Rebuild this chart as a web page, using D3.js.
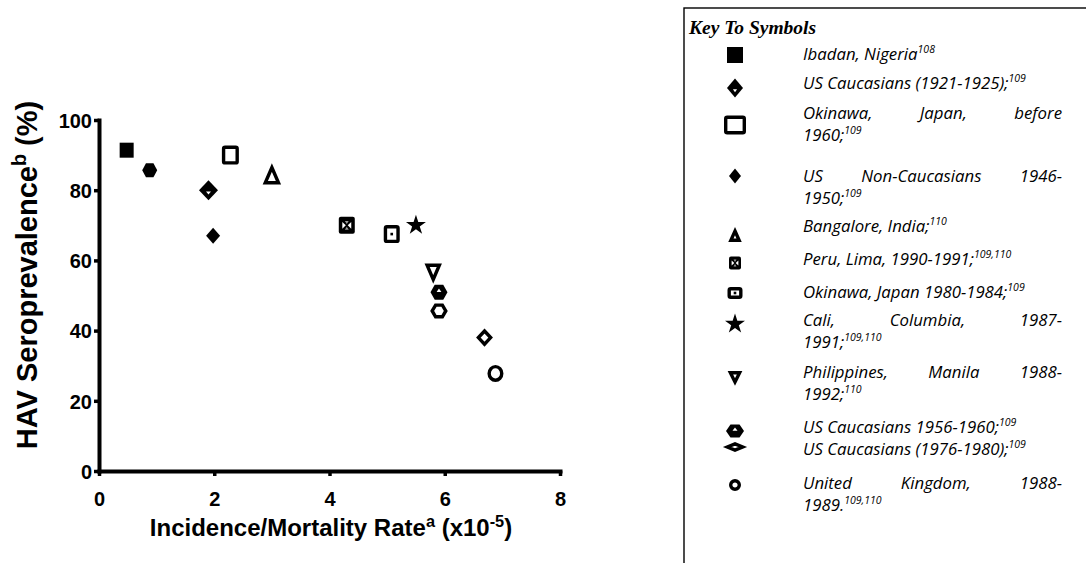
<!DOCTYPE html>
<html><head><meta charset="utf-8">
<script src="https://cdn.jsdelivr.net/npm/d3@7"></script>
<style>body{margin:0;background:#fff;} svg{display:block}</style>
</head><body><svg id="c" width="1086" height="563"></svg>
<script>
// ---------- DATA ----------
const pointX = [0.48, 0.88, 1.9, 1.98, 2.28, 3.0, 4.3, 5.08, 5.5, 5.8, 5.9, 5.9, 6.69, 6.88];
const pointY = [91.4, 85.7, 80, 67, 90, 84.5, 70, 67.5, 70, 56.4, 50.9, 45.6, 38, 27.8];
const pointShape = ["squareFill","hexFill","diamondNotch","diamondFill","squareOpen","triUp",
  "squareX","squareDot","star","triDown","hexNotch","hexOpen","diamondOpen","circleOpen"];
const xTicks = [0, 2, 4, 6, 8];
const yTicks = [0, 20, 40, 60, 80, 100];
const legendTitle = "Key To Symbols";
const legendShapes = ["squareFill","diamondNotch","squareOpen","diamondFill","triUp","squareX",
  "squareDot","star","triDown","hexNotch","diamondOpen","circleOpen"];
const legendLabels = [
  ["Ibadan, Nigeria^108"],
  ["US Caucasians (1921-1925);^109"],
  ["Okinawa, Japan, before", "1960;^109"],
  ["US Non-Caucasians 1946-", "1950;^109"],
  ["Bangalore, India;^110"],
  ["Peru, Lima, 1990-1991;^109,110"],
  ["Okinawa, Japan 1980-1984;^109"],
  ["Cali, Columbia, 1987-", "1991;^109,110"],
  ["Philippines, Manila 1988-", "1992;^110"],
  ["US Caucasians 1956-1960;^109"],
  ["US Caucasians (1976-1980);^109"],
  ["United Kingdom, 1988-", "1989.^109,110"]
];
const xTitle = ["Incidence/Mortality Rate", "a", " (x10", "-5", ")"];
const yTitle = ["HAV Seroprevalence", "b", " (%)"];

// ---------- LAYOUT ----------
const svg = d3.select("#c");
const x = d3.scaleLinear().domain([0, 8]).range([99, 560]);
const y = d3.scaleLinear().domain([0, 100]).range([471, 120]);

const plotSize = {
  squareFill:[14,15], hexFill:[15,14], diamondNotch:[19,20], diamondFill:[14,16],
  squareOpen:[17,19], triUp:[18,20], squareX:[16,17], squareDot:[16,18], star:[15,15],
  triDown:[17,19], hexNotch:[17,15], hexOpen:[17,15], diamondOpen:[17,18], circleOpen:[16,17]
};
const legSize = {
  squareFill:[16,16], hexFill:[15,14], diamondNotch:[16,19], diamondFill:[12,15],
  squareOpen:[22,19], triUp:[13,14], squareX:[12,13], squareDot:[15,12], star:[15,15],
  triDown:[14,14], hexNotch:[18,13], diamondOpen:[20,11], circleOpen:[12,12]
};

function drawSymbol(g, type, w, h) {
  const sw = 3.4, hw = w/2, hh = h/2;
  const poly = pts => "M" + pts.map(p => p.join(",")).join("L") + "Z";
  const diamond = (a, b) => poly([[0,-b],[a,0],[0,b],[-a,0]]);
  const hex = (a, b) => poly([[-a,0],[-a/2,-b],[a/2,-b],[a,0],[a/2,b],[-a/2,b]]);
  const open = sel => sel.attr("fill", "#fff").attr("stroke", "#000").attr("stroke-width", sw);
  switch (type) {
    case "squareFill":
      g.append("rect").attr("x",-hw).attr("y",-hh).attr("width",w).attr("height",h).attr("fill","#000"); break;
    case "squareOpen":
    case "squareDot":
      open(g.append("rect").attr("x",-hw+sw/2).attr("y",-hh+sw/2).attr("width",w-sw).attr("height",h-sw).attr("rx",1.5));
      if (type === "squareDot") g.append("rect").attr("x",-1.3).attr("y",-1.3).attr("width",2.6).attr("height",2.6).attr("fill","#000");
      break;
    case "squareX":
      g.append("rect").attr("x",-hw).attr("y",-hh).attr("width",w).attr("height",h).attr("rx",2).attr("fill","#000");
      g.append("path").attr("d", poly([[-w*0.28,-h*0.2],[-w*0.28,h*0.2],[-w*0.06,0]])).attr("fill","#fff");
      g.append("path").attr("d", poly([[w*0.28,-h*0.2],[w*0.28,h*0.2],[w*0.06,0]])).attr("fill","#fff");
      g.append("path").attr("d", poly([[-w*0.12,-h*0.26],[w*0.12,-h*0.26],[0,-h*0.08]])).attr("fill","#fff").attr("opacity",0.6);
      g.append("path").attr("d", poly([[-w*0.12,h*0.26],[w*0.12,h*0.26],[0,h*0.08]])).attr("fill","#fff").attr("opacity",0.6);
      break;
    case "diamondFill":
      g.append("path").attr("d", diamond(hw, hh)).attr("fill","#000"); break;
    case "diamondNotch":
      g.append("path").attr("d", diamond(hw, hh)).attr("fill","#000");
      g.append("path").attr("d", poly([[-w*0.13,h*0.06],[w*0.13,h*0.06],[0,h*0.22]])).attr("fill","#fff"); break;
    case "diamondOpen":
      open(g.append("path").attr("d", diamond(hw-sw*0.7, hh-sw*0.7)).attr("stroke-linejoin","miter")); break;
    case "triUp":
      open(g.append("path").attr("d", poly([[0,-hh+sw*0.9],[hw-sw*0.7,hh-sw/2],[-hw+sw*0.7,hh-sw/2]]))); break;
    case "triDown":
      open(g.append("path").attr("d", poly([[0,hh-sw*0.9],[hw-sw*0.7,-hh+sw/2],[-hw+sw*0.7,-hh+sw/2]]))); break;
    case "hexFill":
      g.append("path").attr("d", hex(hw, hh)).attr("fill","#000"); break;
    case "hexNotch":
      g.append("path").attr("d", hex(hw, hh)).attr("fill","#000");
      g.append("path").attr("d", poly([[-w*0.14,-h*0.02],[w*0.14,-h*0.02],[0,-h*0.26]])).attr("fill","#fff"); break;
    case "hexOpen":
      open(g.append("path").attr("d", hex(hw-sw/2, hh-sw/2))); break;
    case "star":
      g.append("path").attr("d", d3.symbol(d3.symbolStar, w*w*0.55)()).attr("fill","#000"); break;
    case "circleOpen":
      open(g.append("ellipse").attr("rx", hw-sw/2).attr("ry", hh-sw/2)); break;
  }
}

// ---------- AXES ----------
const axisFont = "'Liberation Sans', Arial, sans-serif";
const xAxis = svg.append("g").attr("transform", `translate(0,${y(0)})`)
  .call(d3.axisBottom(x).tickValues(xTicks).tickFormat(d3.format("d")).tickSize(5).tickSizeOuter(0).tickPadding(16));
const yAxis = svg.append("g").attr("transform", `translate(${x(0)},0)`)
  .call(d3.axisLeft(y).tickValues(yTicks).tickFormat(d3.format("d")).tickSize(5).tickSizeOuter(0).tickPadding(2));
[xAxis, yAxis].forEach(a => {
  a.select(".domain").attr("stroke","#000").attr("stroke-width",4).attr("stroke-linecap","square");
  a.selectAll(".tick line").attr("stroke","#000").attr("stroke-width",3.5);
  a.selectAll(".tick text").attr("fill","#000").style("font-family", axisFont)
    .style("font-size","20px").style("font-weight","bold");
});
xAxis.selectAll(".tick text").attr("dy","0.71em");
yAxis.selectAll(".tick text").attr("dy","0.36em");

function richText(parent, parts, size) {
  const t = parent.append("text").style("font-family", axisFont).style("font-weight","bold")
    .style("font-size", size + "px").attr("fill","#000");
  parts.forEach((p, i) => {
    const sup = i % 2 === 1;
    t.append("tspan").text(p).style("font-size", sup ? (size*0.68)+"px" : size+"px")
      .attr("baseline-shift", sup ? "super" : null);
  });
  return t;
}
richText(svg, xTitle, 24).attr("x", 331).attr("y", 536).attr("text-anchor","middle");
richText(svg.append("g").attr("transform","translate(37,275) rotate(-90)"), yTitle, 29)
  .attr("x", 0).attr("y", 0).attr("text-anchor","middle");

// ---------- POINTS ----------
pointX.forEach((d, i) => {
  const g = svg.append("g").attr("transform", `translate(${x(d)},${y(pointY[i])})`);
  const s = plotSize[pointShape[i]];
  drawSymbol(g, pointShape[i], s[0], s[1]);
});

// ---------- LEGEND ----------
const leg = svg.append("g");
leg.append("rect").attr("x", 684).attr("y", 8).attr("width", 420).attr("height", 600)
  .attr("fill","none").attr("stroke","#000").attr("stroke-width",1.4);
leg.append("text").text(legendTitle).attr("x", 689).attr("y", 34)
  .style("font-family","'Liberation Serif','Times New Roman',serif").style("font-style","italic")
  .style("font-weight","bold").style("font-size","19.5px");

const rowBase = [60, 89, 119, 182, 232, 265, 298, 326, 378, 433, 455, 489];
const symY = [55, 88, 125, 176, 235, 263, 293, 324, 378, 431, 447, 485];
const lineH = 22, textL = 803, textR = 1062, legFont = "'Open Sans', Lato, sans-serif", legSizePx = 16.8;

function legLine(str, yy, justify) {
  const [main, sup] = str.split("^");
  if (!justify) {
    const t = leg.append("text").attr("x", textL).attr("y", yy).style("font-family", legFont)
      .style("font-style","italic").style("font-size", legSizePx+"px");
    t.append("tspan").text(main);
    if (sup) t.append("tspan").text(sup).style("font-size","10.5px").attr("dy", -7);
    return;
  }
  const words = main.split(" ");
  const nodes = words.map(w => leg.append("text").text(w).attr("y", yy).style("font-family", legFont)
    .style("font-style","italic").style("font-size", legSizePx+"px"));
  const widths = nodes.map(n => n.node().getComputedTextLength());
  const gap = (textR - textL - d3.sum(widths)) / (words.length - 1);
  let cx = textL;
  nodes.forEach((n, i) => { n.attr("x", cx); cx += widths[i] + gap; });
}

legendLabels.forEach((lines, i) => {
  lines.forEach((ln, j) => legLine(ln, rowBase[i] + j*lineH, j < lines.length - 1));
  const g = leg.append("g").attr("transform", `translate(735,${symY[i]})`);
  const s = legSize[legendShapes[i]];
  drawSymbol(g, legendShapes[i], s[0], s[1]);
});
</script></body></html>
